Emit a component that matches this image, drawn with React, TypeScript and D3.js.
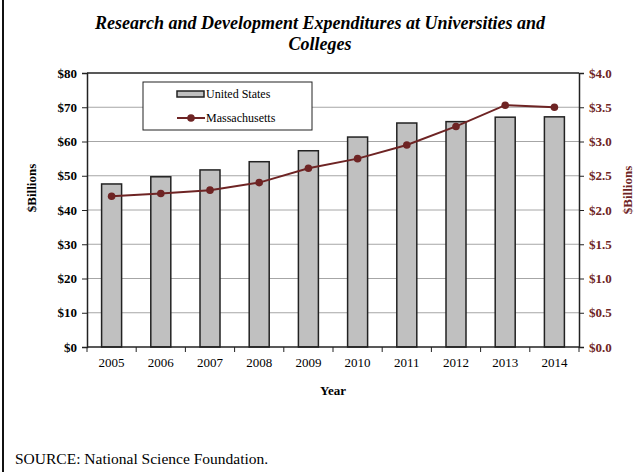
import { useEffect, useRef } from "react";
import * as d3 from "d3";

const years = ["2005", "2006", "2007", "2008", "2009", "2010", "2011", "2012", "2013", "2014"];
const usValues = [47.6, 49.7, 51.7, 54.1, 57.3, 61.3, 65.4, 65.8, 67.1, 67.2];
const maValues = [2.2, 2.24, 2.29, 2.4, 2.61, 2.75, 2.95, 3.22, 3.53, 3.5];
const leftTicks = [0, 10, 20, 30, 40, 50, 60, 70, 80];
const rightTicks = [0, 0.5, 1, 1.5, 2, 2.5, 3, 3.5, 4];

const W = 638;
const H = 472;
const FONT = "Liberation Serif, DejaVu Serif, serif";
const RED = "#6e2424";

const App = () => {
  const svgRef = useRef<SVGSVGElement | null>(null);

  useEffect(() => {
    if (!svgRef.current) return;
    const svg = d3.select(svgRef.current);
    svg.selectAll("*").remove();

    const margin = { top: 73, right: 59, bottom: 125, left: 87 };
    const x0 = margin.left;
    const x1 = W - margin.right;
    const yBottom = H - margin.bottom;

    const x = d3.scaleBand().domain(years).range([x0, x1]).paddingInner(0).paddingOuter(0);
    const yL = d3.scaleLinear().domain([0, 80]).range([yBottom, margin.top]);
    const yR = d3.scaleLinear().domain([0, 4]).range([yBottom, margin.top]);

    svg.append("rect").attr("width", W).attr("height", H).attr("fill", "#fff");
    // left border of the figure
    svg.append("line").attr("x1", 3).attr("x2", 3).attr("y1", 0).attr("y2", H)
      .attr("stroke", "#111").attr("stroke-width", 2);

    const txt = (sel: any, size: number, bold = false) =>
      sel.style("font-family", FONT).style("font-size", `${size}px`)
        .style("font-weight", bold ? "bold" : "normal");

    // title
    const title = svg.append("text")
      .attr("text-anchor", "middle")
      .attr("fill", "#000");
    txt(title, 18, true).style("font-style", "italic");
    title.append("tspan").attr("x", 320).attr("y", 29)
      .text("Research and Development Expenditures at Universities and");
    title.append("tspan").attr("x", 320).attr("y", 50).text("Colleges");

    // gridlines
    svg.append("g").selectAll("line")
      .data(leftTicks.filter((d) => d > 0 && d < 80))
      .join("line")
      .attr("x1", x0).attr("x2", x1)
      .attr("y1", (d) => yL(d)).attr("y2", (d) => yL(d))
      .attr("stroke", "#a6a6a6").attr("stroke-width", 1);

    // bars
    const barW = 20;
    svg.append("g").selectAll("rect")
      .data(years)
      .join("rect")
      .attr("x", (d) => x(d)! + x.bandwidth() / 2 - barW / 2)
      .attr("y", (_, i) => yL(usValues[i]))
      .attr("width", barW)
      .attr("height", (_, i) => yBottom - yL(usValues[i]))
      .attr("fill", "#c0c0c0")
      .attr("stroke", "#222")
      .attr("stroke-width", 1.5);

    // frame top
    svg.append("line").attr("x1", x0).attr("x2", x1).attr("y1", margin.top).attr("y2", margin.top)
      .attr("stroke", "#222").attr("stroke-width", 1.5);

    // left axis
    const leftAxis = svg.append("g")
      .attr("transform", `translate(${x0},0)`)
      .call(d3.axisLeft(yL).tickValues(leftTicks).tickSize(5).tickPadding(5).tickFormat((d) => `$${d}`));
    leftAxis.select(".domain").attr("stroke", "#222").attr("stroke-width", 1.5);
    leftAxis.selectAll(".tick line").attr("stroke", "#222");
    txt(leftAxis.selectAll("text"), 13, true).attr("fill", "#000");

    // right axis
    const rightAxis = svg.append("g")
      .attr("transform", `translate(${x1},0)`)
      .call(d3.axisRight(yR).tickValues(rightTicks).tickSize(5).tickPadding(5).tickFormat((d) => `$${(+d).toFixed(1)}`));
    rightAxis.select(".domain").attr("stroke", "#222").attr("stroke-width", 1.5);
    rightAxis.selectAll(".tick line").attr("stroke", "#222");
    txt(rightAxis.selectAll("text"), 13, true).attr("fill", RED);

    // bottom axis with ticks between categories
    const bottom = svg.append("g");
    bottom.append("line").attr("x1", x0).attr("x2", x1).attr("y1", yBottom).attr("y2", yBottom)
      .attr("stroke", "#222").attr("stroke-width", 1.5);
    const bounds = years.map((d) => x(d)!).concat([x1]);
    bottom.selectAll("line.tk")
      .data(bounds)
      .join("line")
      .attr("class", "tk")
      .attr("x1", (d) => d).attr("x2", (d) => d)
      .attr("y1", yBottom).attr("y2", yBottom + 5)
      .attr("stroke", "#222");
    txt(bottom.selectAll("text")
      .data(years)
      .join("text")
      .attr("x", (d) => x(d)! + x.bandwidth() / 2)
      .attr("y", yBottom + 20)
      .attr("text-anchor", "middle")
      .attr("fill", "#000")
      .text((d) => d), 13);

    // axis titles
    txt(svg.append("text")
      .attr("transform", `translate(36,188) rotate(-90)`)
      .attr("text-anchor", "middle")
      .text("$Billions"), 13, true);
    txt(svg.append("text")
      .attr("transform", `translate(632,190) rotate(-90)`)
      .attr("text-anchor", "middle")
      .attr("fill", RED)
      .text("$Billions"), 13, true);
    txt(svg.append("text")
      .attr("x", (x0 + x1) / 2).attr("y", 395)
      .attr("text-anchor", "middle")
      .text("Year"), 13, true);

    // Massachusetts line
    const line = d3.line<number>()
      .x((_, i) => x(years[i])! + x.bandwidth() / 2)
      .y((d) => yR(d));
    svg.append("path")
      .datum(maValues)
      .attr("fill", "none")
      .attr("stroke", RED)
      .attr("stroke-width", 2)
      .attr("d", line);
    svg.append("g").selectAll("circle")
      .data(maValues)
      .join("circle")
      .attr("cx", (_, i) => x(years[i])! + x.bandwidth() / 2)
      .attr("cy", (d) => yR(d))
      .attr("r", 3.8)
      .attr("fill", RED);

    // legend
    const lg = svg.append("g");
    lg.append("rect").attr("x", 143).attr("y", 82).attr("width", 169).attr("height", 48)
      .attr("fill", "#fff").attr("stroke", "#222").attr("stroke-width", 1);
    lg.append("rect").attr("x", 177).attr("y", 91).attr("width", 27).attr("height", 6)
      .attr("fill", "#c0c0c0").attr("stroke", "#222").attr("stroke-width", 1.5);
    txt(lg.append("text").attr("x", 206).attr("y", 98).text("United States"), 12);
    lg.append("line").attr("x1", 177).attr("x2", 205).attr("y1", 118).attr("y2", 118)
      .attr("stroke", RED).attr("stroke-width", 2);
    lg.append("circle").attr("cx", 191).attr("cy", 118).attr("r", 3.8).attr("fill", RED);
    txt(lg.append("text").attr("x", 206).attr("y", 122).text("Massachusetts"), 12);

    // source
    txt(svg.append("text")
      .attr("x", 15).attr("y", 464)
      .text("SOURCE: National Science Foundation."), 15.5);
  }, []);

  return (
    <div>
      <style>{`body{margin:0}`}</style>
      <svg ref={svgRef} width={W} height={H} style={{ display: "block" }} />
    </div>
  );
};

export default App;
